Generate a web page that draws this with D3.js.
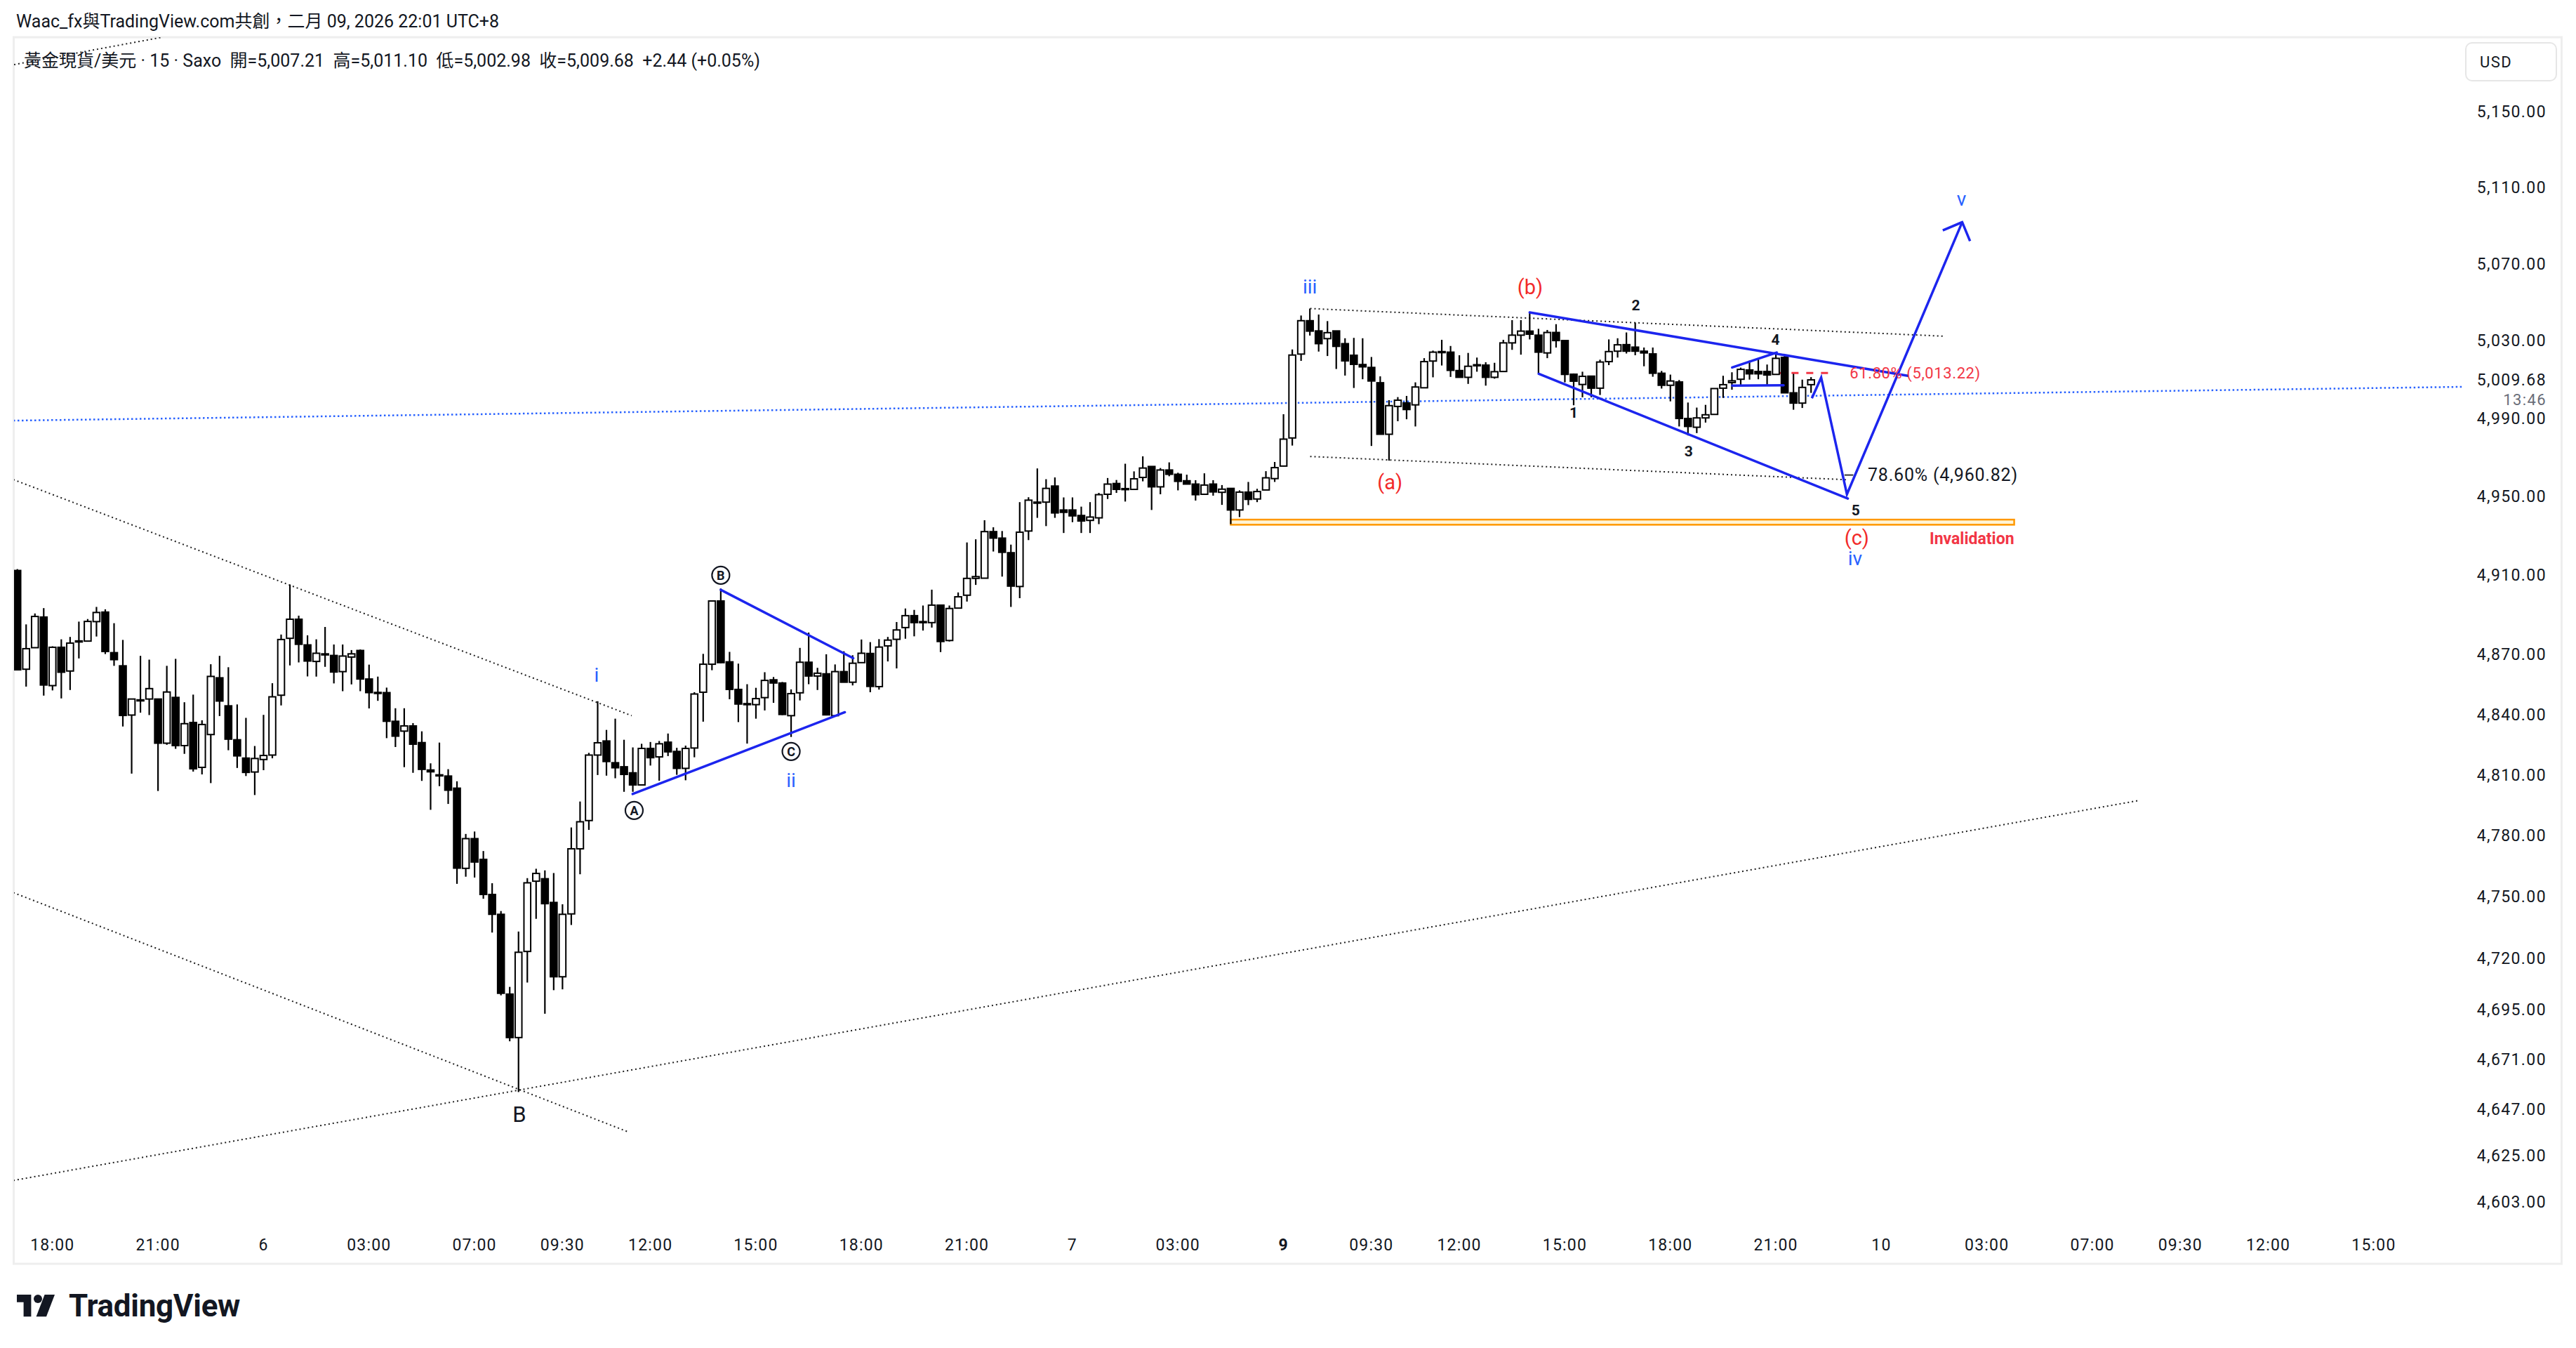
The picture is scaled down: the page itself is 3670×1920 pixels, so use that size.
<!DOCTYPE html>
<html>
<head>
<meta charset="utf-8">
<script src="https://cdn.jsdelivr.net/npm/d3@7"></script>
<style>
  body { margin: 0; background: #fff; }
  svg text { font-family: Roboto, "Noto Sans CJK TC", "Noto Sans", sans-serif; }
</style>
</head>
<body>
<svg id="chart" width="3670" height="1920"></svg>
<script>
// 15-minute candles, index 0 = 5 Feb 17:00, index 204 = 9 Feb 22:00
const opens = [4912.3,4862.6,4873.4,4888.8,4854.4,4873.6,4861.7,4876.8,4876.7,4886.5,
4891.3,4870.9,4864.3,4839.7,4847.3,4847.7,4847.7,4825.7,4848.5,4824.5,
4836,4813.7,4830,4858.3,4844.3,4827.4,4818.3,4811.4,4817.6,4819.8,
4849.6,4878.1,4887.7,4874.8,4866.5,4870.3,4869.5,4861.4,4868.7,4872,
4857.7,4851,4850.9,4836.6,4831.7,4834.3,4826,4812.4,4810,4809.4,
4803.4,4763.9,4778.5,4768.3,4751.1,4741.4,4702.6,4681.6,4723.3,4757.6,
4758.8,4747.2,4711,4741.6,4773.5,4787.4,4819.8,4826.8,4816,4814,
4811,4805,4823.1,4818.9,4826.2,4821.6,4813.2,4823.3,4851.1,4865.1,
4896.9,4866.3,4852.5,4845.4,4844.9,4848.4,4857.3,4855.7,4839.4,4850.8,
4866.1,4859.2,4860.3,4839.4,4861.4,4856.1,4865.9,4870.5,4853.9,4874.3,
4877.6,4883.5,4889.5,4886.5,4886,4894.8,4877,4893.3,4899.8,4908.3,
4908.4,4932,4928.7,4921.3,4904.2,4932.3,4947,4947,4955.2,4943,
4943,4940.2,4937.7,4939,4951,4956.5,4953.9,4953.5,4959.6,4965.2,
4954.8,4963.4,4961.2,4957.9,4956.2,4951,4956.2,4952,4954,4943,
4952.1,4948.6,4953.2,4959,4965.4,4979.8,5023,5040.3,5035,5031,
5035,5028.4,5022.4,5017.6,5016.1,5008.2,4981.7,4996,4997.8,4996.8,
5005.6,5019.4,5024.3,5024,5014.5,5011,5017.5,5017.3,5011,5014,
5028.8,5032.8,5034.9,5032.8,5023.6,5034.2,5030,5012.6,5007.3,5011.6,
5005.4,5019.1,5024.5,5027.9,5026.6,5024.5,5023.1,5013.1,5006.9,5008.6,
4989.8,4985.3,4990.1,4991.9,5005.4,5008.3,5010,5014.8,5014,5014,
5012.5,5021.3,5003,4997.7,5007.21];
const highs = [4913,4885.1,4890.6,4893.3,4874.1,4877.6,4878.8,4886.5,4887.8,4893.9,
4892.7,4885.7,4877.3,4847.7,4869.3,4867.4,4847.7,4864.3,4867.8,4846.1,
4849.9,4837.1,4865.1,4869.3,4863.6,4845,4838.3,4824.3,4839.8,4855.6,
4880,4905.2,4889.5,4879.6,4877.6,4883.8,4875,4875,4872.2,4872.5,
4864.9,4858.9,4853.4,4843.1,4843.1,4835.7,4831.6,4815.7,4826,4812.8,
4806.8,4780.8,4782,4772.4,4756.6,4743,4706.1,4733,4759.1,4763.7,
4762.9,4761.6,4746.3,4784,4796.8,4820.9,4846.6,4832.3,4837.9,4827.4,
4823.6,4825.4,4826.3,4826.8,4830.5,4823.4,4824.5,4851.1,4870.3,4897,
4903.2,4871.3,4865.4,4855.1,4853.3,4861.1,4858.7,4856.2,4852.5,4873.3,
4881,4863.3,4870.1,4865,4871.6,4869.6,4877.5,4876.2,4877.7,4878.8,
4886.3,4893.1,4892.4,4894.6,4902.6,4894.8,4894.6,4901.2,4926.5,4928.1,
4937.8,4934.2,4932.3,4925.4,4947,4949.5,4964.2,4958.7,4959.6,4949.4,
4949.4,4944.7,4947,4951.7,4959.3,4958.3,4966.6,4962.7,4970.4,4965.2,
4964.4,4967.3,4962,4961,4958.2,4961.7,4958.2,4955.7,4954,4953,
4957.3,4953.8,4962.8,4967.5,4992,5025.4,5043,5046.6,5043.5,5040.1,
5035,5031.2,5031.4,5031.2,5021.5,5011.5,4999.2,5000.8,5001.4,5008.4,
5020.9,5024.8,5030.4,5027.2,5022.4,5023.6,5021.2,5018.8,5018.5,5030.4,
5040.6,5040.6,5044.6,5036.1,5035.5,5038.5,5030,5013,5013.9,5011.8,
5020.1,5030.6,5031.2,5034.2,5039.3,5026.4,5026.4,5014.3,5012.4,5009.6,
4998,4995.4,4996.8,5005.2,5011.8,5013.6,5016,5019.6,5020.2,5017.6,
5023.6,5022.8,5012.8,5009.8,5011.10];
const lows = [4862,4853.9,4873.4,4849.4,4852,4848,4852.2,4868,4876.7,4879,
4870.2,4864.3,4834,4810.6,4840.9,4839.7,4802,4824.9,4822.9,4820.4,
4811.6,4810.2,4805.9,4839.2,4822.2,4813.4,4809.4,4800,4812.3,4818.2,
4844.5,4864.5,4866,4859,4858.9,4863.8,4855.5,4851.6,4855,4851.6,
4843,4846.8,4828.2,4823.8,4813.8,4811,4807,4792.7,4804.4,4795.6,
4756.3,4759.8,4759.4,4749,4732.5,4702,4679.8,4655.4,4708.2,4739.2,
4693.1,4704.5,4704.9,4736.2,4761,4782.8,4809.9,4809.6,4808.3,4801.6,
4801.6,4805,4814.6,4807.1,4819.3,4810,4807.3,4818.7,4836.4,4862.1,
4865.6,4847.6,4836.2,4825.5,4837.9,4842,4845.8,4839.7,4828.8,4847,
4855.1,4852.2,4839.5,4839.4,4856,4854.5,4865.8,4851.1,4852.4,4866.5,
4863,4877.9,4879.1,4882,4883.5,4871.2,4876.5,4893.3,4896.6,4905,
4908.4,4921.9,4909.2,4893.9,4898.3,4927.7,4939,4934.8,4939,4931.3,
4936.8,4931.3,4931.3,4935.8,4948.6,4951.7,4947.3,4953.5,4957.6,4943,
4951,4960.2,4953,4956.2,4947.8,4951,4950.3,4945.6,4935.8,4939.4,
4945.5,4947,4953.2,4957.3,4965.3,4975.9,5019.5,5032.6,5024.3,5022,
5015.3,5011.9,5005.5,5010,4975.7,4981.7,4968.2,4988.4,4989.4,4985.7,
5005.5,5011,5017.1,5011.2,5011,5007.6,5013.9,5006.7,5010.3,5014,
5025.2,5022.7,5030.6,5013,5020.9,5026.4,5008.4,4996.6,5000.7,5000.7,
5001.9,5017.3,5021.2,5023.3,5022.4,5016.7,5011.3,5005.2,4998.6,4985.7,
4981.1,4982.3,4987.7,4991.7,5000.4,5004.6,5006.7,5009.8,5010,5007,
5012.5,5003,4994.3,4995.2,5002.98];
const closes = [4862.3,4872.9,4889.1,4854.7,4873.6,4861.1,4875.7,4876.8,4886.6,4891.1,
4871.5,4867.4,4839.5,4847.7,4847.3,4852.9,4825.7,4851.2,4824.5,4835.4,
4813,4835,4859,4846.7,4827.7,4819.4,4811.2,4818.1,4819.6,4848.8,
4877.5,4887.7,4875.1,4866.7,4870.6,4870.3,4861.2,4869.2,4870.3,4857.7,
4850.9,4851,4836.6,4829.2,4834.3,4825.2,4812.7,4811.5,4810,4802.4,
4764,4778.5,4767,4751.1,4741.4,4703,4681.6,4722.9,4756.8,4761.4,
4746.6,4711,4741.4,4773.5,4786.8,4819.8,4825.9,4816.6,4813.5,4810.2,
4805,4823.1,4818.5,4825.4,4821.4,4813.2,4823.1,4850.2,4865.1,4896.9,
4865.9,4852.5,4845.2,4845.4,4847.9,4857,4855.7,4840,4850.4,4866.1,
4859.2,4860.6,4839.8,4861.4,4856.1,4865.6,4870.6,4854,4873.7,4877.2,
4882.3,4889.5,4886,4886.5,4894.8,4876.5,4893.1,4899,4908.3,4909.2,
4932,4928.7,4921.5,4904.4,4931.7,4948,4946.7,4954,4941.5,4941.8,
4940,4937.4,4939.4,4950.8,4956.2,4953.5,4953.9,4958.9,4964.4,4954.8,
4963.4,4961.2,4957.6,4956.2,4950.8,4955.7,4952.2,4953.6,4943,4952.1,
4948.4,4952.4,4959.4,4964.6,4979.2,5022.5,5040.3,5034.9,5028.4,5034.1,
5027,5019.5,5017.7,5016.4,5009.1,4981.7,4996.4,4999.2,4994.4,5006,
5019.1,5024,5024.3,5014.6,5011,5016.7,5017.5,5011,5013.9,5028.8,
5032.8,5034.9,5033.3,5024,5034.2,5030,5012.5,5009,5011.5,5005.4,
5018.9,5024.3,5027.8,5024.5,5024.5,5023.6,5013.1,5006.9,5009.1,4989.8,
4985.7,4990.1,4991.7,5005.2,5007.2,5009.2,5015.1,5012.8,5012.8,5012.2,
5020.8,5003,4997.7,5005.8,5009.68];

// axis ticks
const timeTickIdx = [4,16,28,40,52,62,72,84,96,108,120,132,144,154,164,176,188,200,212,224,236,246,256,268];
const timeTickText = ['18:00','21:00','6','03:00','07:00','09:30','12:00','15:00','18:00','21:00','7','03:00','9','09:30','12:00','15:00','18:00','21:00','10','03:00','07:00','09:30','12:00','15:00'];
const priceTicks = [5150,5110,5070,5030,4990,4950,4910,4870,4840,4810,4780,4750,4720,4695,4671,4647,4625,4603];
const lastPrice = 5009.68;

// drawings, points are [bar index, price]
const dottedLines = [
  [[-0.455, 4958.5], [69.87, 4839.4]],
  [[-0.455, 4752.0], [69.55, 4636.2]],
  [[-0.455, 4613.2], [241.27, 4797.3]],
  [[-0.375, 5175.0], [16.35, 5189.5]],
  [[147.03, 5046.6], [218.99, 5032.3]],
  [[147.03, 4970.3], [208.21, 4958.4]]
];
const blueTrend = [[-0.455, 4988.7], [278.23, 5006.1]];
const triangleLines = [
  [[80.0, 4902.5], [95.07, 4868.1]],
  [[69.98, 4800.5], [94.11, 4841.1]],
  [[172.0, 5044.6], [215.0, 5011.8]],
  [[173.03, 5012.8], [208.18, 4948.8]],
  [[195.03, 5016.1], [200.09, 5023.8]],
  [[195.03, 5006.7], [200.87, 5006.9]]
];
const projection = [[204.09, 5000.2], [205.15, 5010.9], [208.08, 4951.0], [221.19, 5091.7]];
const arrowHead = [[218.98, 5087.4], [221.19, 5091.7], [222.08, 5081.8]];
const fibLevels = [5013.22, 4960.82];
const fibFrom = [200.1, 207.8];
const fibTo = [206.2, 208.8];
const fibText = ['61.80% (5,013.22)', '78.60% (4,960.82)'];
const fibTextIdx = [208.4, 210.45];
const invalidZone = [[138.0, 4938.1], [227.1, 4935.5]];

const waveText = ['i', 'ii', 'iii', 'iv', 'v'];
const waveAt = [[65.88, 4859.8], [88.0, 4807.3], [147.0, 5058.1], [209.0, 4918.5], [221.1, 5104.0]];
const abcText = ['(a)', '(b)', '(c)'];
const abcAt = [[156.1, 4957.0], [172.05, 5057.7], [209.2, 4928.9]];
const subText = ['1', '2', '3', '4', '5'];
const subAt = [[177.0, 4992.7], [184.07, 5048.2], [190.07, 4973.0], [199.96, 5030.4], [209.07, 4943.0]];
const circText = ['A', 'B', 'C'];
const circAt = [[70.15, 4792.4], [80.0, 4909.9], [88.0, 4821.6]];
const bLabelAt = [57.1, 4644.6];

// ---------------------------------------------------------------
const pane = { left: 20, right: 3510, top: 53, bottom: 1745 };
const blue = "#1c25ee", labelBlue = "#2962ff", red = "#f22a2a";

const svg = d3.select("#chart");
const x = d3.scaleLinear().domain([0, 204]).range([24.7, 2580.2]);
const y = d3.scaleLog().domain([5150, 4603]).range([159, 1712]);
const line = d3.line().x(d => x(d[0])).y(d => y(d[1]));

// frame
svg.append("rect").attr("x", 19.5).attr("y", 53).attr("width", 3630).attr("height", 1747)
  .attr("fill", "none").attr("stroke", "#eeeeee").attr("stroke-width", 3);

svg.append("defs").append("clipPath").attr("id", "pane")
  .append("rect").attr("x", pane.left).attr("y", pane.top)
  .attr("width", pane.right - pane.left).attr("height", pane.bottom - pane.top);

const g = svg.append("g").attr("clip-path", "url(#pane)");

// invalidation zone
g.append("rect")
  .attr("x", x(invalidZone[0][0])).attr("y", y(invalidZone[0][1]))
  .attr("width", x(invalidZone[1][0]) - x(invalidZone[0][0]))
  .attr("height", y(invalidZone[1][1]) - y(invalidZone[0][1]))
  .attr("fill", "#fff4d6").attr("stroke", "#ff9800").attr("stroke-width", 2.5);

// dotted trend lines
g.selectAll(".dot-line").data(dottedLines).enter().append("path")
  .attr("d", line).attr("fill", "none").attr("stroke", "#202020")
  .attr("stroke-width", 2).attr("stroke-dasharray", "2 4");

g.append("path").attr("d", line(blueTrend)).attr("fill", "none")
  .attr("stroke", "#2962ff").attr("stroke-width", 2.5).attr("stroke-dasharray", "2.5 3.5");

// fib markers
g.append("line").attr("x1", x(fibFrom[0])).attr("x2", x(fibTo[0]))
  .attr("y1", y(fibLevels[0])).attr("y2", y(fibLevels[0]))
  .attr("stroke", "#f23645").attr("stroke-width", 3).attr("stroke-dasharray", "10 11");
g.append("line").attr("x1", x(fibFrom[1])).attr("x2", x(fibTo[1]))
  .attr("y1", y(fibLevels[1])).attr("y2", y(fibLevels[1]))
  .attr("stroke", "#333").attr("stroke-width", 2);

// candles
const idx = d3.range(opens.length);
const candles = g.append("g");
candles.selectAll(".wick").data(idx).enter().append("line")
  .attr("x1", i => x(i)).attr("x2", i => x(i))
  .attr("y1", i => y(highs[i])).attr("y2", i => y(lows[i]))
  .attr("stroke", "#000").attr("stroke-width", 2.2);
candles.selectAll(".body").data(idx).enter().append("rect")
  .attr("x", i => x(i) - 4.8).attr("width", 9.6)
  .attr("y", i => y(Math.max(opens[i], closes[i])))
  .attr("height", i => Math.max(1.5, Math.abs(y(opens[i]) - y(closes[i]))))
  .attr("fill", i => closes[i] >= opens[i] ? "#fff" : "#000")
  .attr("stroke", "#000").attr("stroke-width", 2);

// blue wave drawings
g.selectAll(".tri").data(triangleLines).enter().append("path")
  .attr("d", line).attr("fill", "none").attr("stroke", blue)
  .attr("stroke-width", 3.5).attr("stroke-linecap", "round");
g.append("path").attr("d", line(projection)).attr("fill", "none").attr("stroke", blue)
  .attr("stroke-width", 3.5).attr("stroke-linejoin", "miter");
g.append("path").attr("d", line(arrowHead)).attr("fill", "none").attr("stroke", blue)
  .attr("stroke-width", 3.5);

// fib labels
g.append("text").attr("x", x(fibTextIdx[0])).attr("y", y(fibLevels[0]))
  .attr("dy", "0.35em").attr("font-size", 22).attr("letter-spacing", 0.6)
  .attr("fill", "#f23645").text(fibText[0]);
g.append("text").attr("x", x(fibTextIdx[1])).attr("y", y(fibLevels[1]))
  .attr("dy", "0.35em").attr("font-size", 25).attr("letter-spacing", 0.8)
  .attr("fill", "#131722").text(fibText[1]);
g.append("text").attr("x", x(invalidZone[1][0])).attr("y", y(invalidZone[1][1]) + 20)
  .attr("dy", "0.35em").attr("text-anchor", "end").attr("font-size", 23)
  .attr("font-weight", 700).attr("fill", "#f23645").text("Invalidation");

// wave labels
const labels = g.append("g").attr("text-anchor", "middle");
labels.selectAll(".wv").data(waveText).enter().append("text")
  .attr("x", (d, i) => x(waveAt[i][0])).attr("y", (d, i) => y(waveAt[i][1]))
  .attr("dy", "0.35em").attr("font-size", 28).attr("fill", labelBlue).text(d => d);
labels.selectAll(".abc").data(abcText).enter().append("text")
  .attr("x", (d, i) => x(abcAt[i][0])).attr("y", (d, i) => y(abcAt[i][1]))
  .attr("dy", "0.35em").attr("font-size", 29).attr("fill", red).text(d => d);
labels.selectAll(".sub").data(subText).enter().append("text")
  .attr("x", (d, i) => x(subAt[i][0])).attr("y", (d, i) => y(subAt[i][1]))
  .attr("dy", "0.35em").attr("font-size", 21).attr("font-weight", 700).attr("fill", "#131722").text(d => d);
labels.append("text").attr("x", x(bLabelAt[0])).attr("y", y(bLabelAt[1]))
  .attr("dy", "0.35em").attr("font-size", 31).attr("fill", "#131722").text("B");
const circ = labels.selectAll(".circ").data(circText).enter().append("g")
  .attr("transform", (d, i) => `translate(${x(circAt[i][0])},${y(circAt[i][1])})`);
circ.append("circle").attr("r", 12.5).attr("fill", "#fff").attr("stroke", "#131722").attr("stroke-width", 2.2);
circ.append("text").attr("dy", "0.36em").attr("font-size", 18).attr("font-weight", 700)
  .attr("fill", "#131722").text(d => d);

// price axis
const axisG = svg.append("g").attr("font-size", 23).attr("letter-spacing", 1.4)
  .attr("fill", "#131722").attr("text-anchor", "end");
axisG.selectAll(".pt").data(priceTicks).enter().append("text")
  .attr("x", 3628).attr("y", d => y(d)).attr("dy", "0.35em")
  .text(d => d3.format(",.2f")(d));
axisG.append("text").attr("x", 3628).attr("y", y(lastPrice)).attr("dy", "0.35em")
  .text(d3.format(",.2f")(lastPrice));
axisG.append("text").attr("x", 3628).attr("y", y(lastPrice) + 28).attr("dy", "0.35em")
  .attr("font-size", 22).attr("fill", "#6a6d78").text("13:46");

svg.append("rect").attr("x", 3513).attr("y", 61).attr("width", 129).attr("height", 54)
  .attr("rx", 9).attr("fill", "#fff").attr("stroke", "#e6e6e6").attr("stroke-width", 2);
svg.append("text").attr("x", 3533).attr("y", 88).attr("dy", "0.35em")
  .attr("font-size", 22).attr("letter-spacing", 1.5).attr("fill", "#131722").text("USD");

// time axis
svg.append("g").attr("font-size", 23).attr("letter-spacing", 1.2)
  .attr("fill", "#131722").attr("text-anchor", "middle")
  .selectAll("text").data(timeTickIdx).enter().append("text")
  .attr("x", d => x(d)).attr("y", 1773).attr("dy", "0.35em")
  .attr("font-weight", (d, i) => timeTickText[i] === "9" ? 700 : 400)
  .text((d, i) => timeTickText[i]);

// header
svg.append("text").attr("x", 23).attr("y", 30).attr("dy", "0.35em")
  .attr("font-size", 25).attr("fill", "#131722")
  .text("Waac_fx與TradingView.com共創，二月 09, 2026 22:01 UTC+8");
svg.append("text").attr("x", 34).attr("y", 86).attr("dy", "0.35em")
  .attr("font-size", 25).attr("fill", "#131722").attr("xml:space", "preserve")
  .text("黃金現貨/美元 · 15 · Saxo  開=5,007.21  高=5,011.10  低=5,002.98  收=5,009.68  +2.44 (+0.05%)");

// TradingView logo
const logo = svg.append("g").attr("transform", "translate(24,1844) scale(1.2)").attr("fill", "#131722");
logo.append("path").attr("d", "M0 0 H17 V26 H8 V9 H0 Z");
logo.append("circle").attr("cx", 25).attr("cy", 5).attr("r", 5);
logo.append("path").attr("d", "M33 0 H45 L35 26 H23 Z");
svg.append("text").attr("x", 98).attr("y", 1875).attr("font-size", 44).attr("font-weight", 700)
  .attr("fill", "#131722").attr("letter-spacing", -0.3).text("TradingView");
</script>
</body>
</html>
